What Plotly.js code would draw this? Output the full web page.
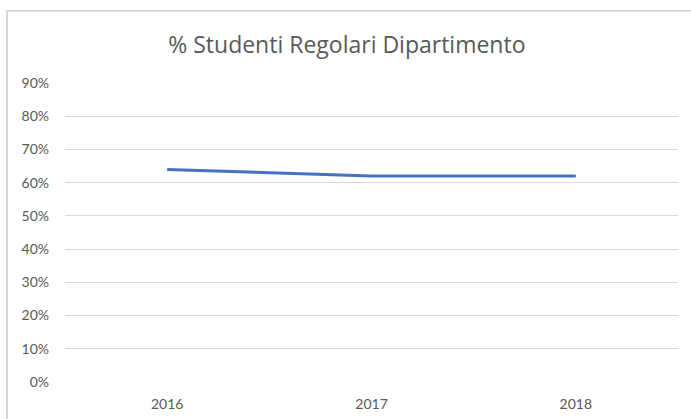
<!DOCTYPE html>
<html>
<head>
<meta charset="utf-8">
<script src="https://cdn.plot.ly/plotly-3.0.1.min.js"></script>
<style>
html,body{margin:0;padding:0;background:#fff;}
#chart{width:691px;height:419px;}
</style>
</head>
<body>
<div id="chart"></div>
<script>
var years = ['2016', '2017', '2018'];
var regolari = [0.64, 0.62, 0.62];
var yTicks = [0, 0.1, 0.2, 0.3, 0.4, 0.5, 0.6, 0.7, 0.8, 0.9];
var yTickText = ['0%', '10%', '20%', '30%', '40%', '50%', '60%', '70%', '80%', '90%'];
var chartTitle = '% Studenti Regolari Dipartimento';

var trace = {
  x: years,
  y: regolari,
  type: 'scatter',
  mode: 'lines',
  line: {color: '#4472C4', width: 3},
  hoverinfo: 'skip'
};

var layout = {
  width: 691,
  height: 419,
  margin: {l: 65, r: 13, t: 83, b: 37},
  paper_bgcolor: 'rgba(0,0,0,0)',
  plot_bgcolor: 'rgba(0,0,0,0)',
  showlegend: false,
  font: {family: 'Lato, "Open Sans", sans-serif', color: '#595959', size: 13},
  title: {
    text: chartTitle,
    font: {family: '"Open Sans", sans-serif', size: 23, color: '#595959'},
    x: 0.502, xanchor: 'center',
    y: 0.893, yanchor: 'middle'
  },
  xaxis: {
    type: 'category',
    range: [-0.5, 2.5],
    showgrid: false,
    zeroline: false,
    showline: false,
    ticks: '',
    ticklabelstandoff: 12,
    tickfont: {size: 14, color: '#595959'}
  },
  yaxis: {
    range: [0, 0.9],
    tickvals: yTicks,
    ticktext: yTickText,
    showgrid: true,
    gridcolor: '#D9D9D9',
    gridwidth: 1,
    zeroline: false,
    showline: false,
    ticks: '',
    ticklabelstandoff: 15,
    tickfont: {size: 14, color: '#595959'}
  },
  shapes: [
    {type: 'line', xref: 'paper', yref: 'paper', x0: -0.0946, x1: -0.0946, y0: 1.2408, y1: -0.2, line: {color: '#D9D9D9', width: 2}},
    {type: 'line', xref: 'paper', yref: 'paper', x0: -0.0962, x1: 1.03, y0: 1.2408, y1: 1.2408, line: {color: '#D9D9D9', width: 2}}
  ]
};

Plotly.newPlot('chart', [trace], layout, {displayModeBar: false, staticPlot: true});
</script>
</body>
</html>
